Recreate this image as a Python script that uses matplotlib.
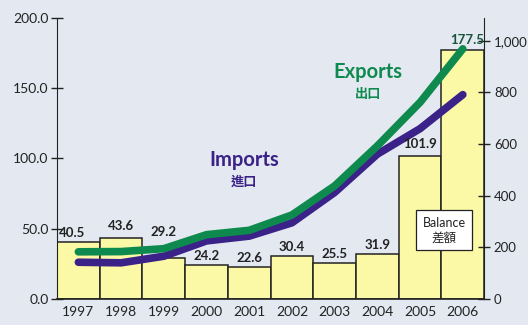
import matplotlib.pyplot as plt
from matplotlib.ticker import FuncFormatter

plt.rcParams['font.family'] = ['Lato', 'Noto Sans CJK TC', 'DejaVu Sans']

years = ['1997', '1998', '1999', '2000', '2001', '2002', '2003', '2004', '2005', '2006']
balance = [40.5, 43.6, 29.2, 24.2, 22.6, 30.4, 25.5, 31.9, 101.9, 177.5]
exports = [182.8, 183.7, 194.9, 249.2, 266.1, 325.6, 438.2, 593.3, 762.0, 969.1]
imports = [142.4, 140.2, 165.7, 225.1, 243.6, 295.2, 412.8, 561.2, 660.0, 791.6]

green = '#0f8a4f'
purple = '#3b2288'
bar_fill = '#fbf8a6'
ink = '#222222'

fig = plt.figure(figsize=(5.28, 3.25), dpi=100)
fig.patch.set_facecolor('#e4e9f1')
ax = fig.add_axes([0.108, 0.080, 0.809, 0.865])
ax.set_facecolor('none')

# balance bars on the left axis
x = list(range(len(years)))
ax.bar(x, balance, width=1.0, color=bar_fill, edgecolor=ink, linewidth=1.1, zorder=2)
ax.set_xlim(-0.5, len(years) - 0.5)
ax.set_ylim(0, 200)
ax.set_yticks([0, 50, 100, 150, 200])
ax.yaxis.set_major_formatter(FuncFormatter(lambda v, p: f'{v:.1f}'))
ax.set_xticks(x)
ax.set_xticklabels(years)
ax.tick_params(axis='x', length=0, pad=5, labelsize=10, colors=ink)
ax.tick_params(axis='y', direction='inout', length=8, width=1, labelsize=10, colors=ink, pad=2)
for s in ['top', 'right']:
    ax.spines[s].set_visible(False)
ax.spines['left'].set_color(ink)
ax.spines['bottom'].set_color(ink)
ax.spines['bottom'].set_linewidth(1.2)

# exports / imports on the right axis
ax2 = ax.twinx()
ax2.set_ylim(0, 1089)
ax2.set_yticks([0, 200, 400, 600, 800, 1000])
ax2.yaxis.set_major_formatter(FuncFormatter(lambda v, p: f'{int(v):,}'))
ax2.tick_params(axis='y', direction='inout', length=8, width=1, labelsize=9.5, colors=ink, pad=3)
for s in ['top', 'left', 'bottom']:
    ax2.spines[s].set_visible(False)
ax2.spines['right'].set_color(ink)

ax2.plot(x, imports, color=purple, lw=5.5, solid_capstyle='round', solid_joinstyle='round', zorder=3)
ax2.plot(x, exports, color=green, lw=5.5, solid_capstyle='round', solid_joinstyle='round', zorder=4)

# value labels over each bar (on ax2 so they stay above the lines)
for i, v in enumerate(balance):
    ha, xo, yo, col = 'center', 0, 6.5, ink
    if i == 0:
        ha, xo = 'left', -0.45
    elif i == 1:
        yo = 8
    elif i == 2:
        yo = 18.5
    elif i == 8:
        yo = 8.5
    elif i == len(balance) - 1:
        ha, xo, yo, col = 'right', 0.5, 6.8, '#17553a'
    ax2.text(i + xo, v + yo, f'{v}', ha=ha, va='center', fontsize=9.5,
             fontweight='bold', color=col, zorder=5, transform=ax.transData)

# series names
ax2.text(6.78, 880, 'Exports', color=green, fontsize=14.5, fontweight='bold', ha='center', va='center')
ax2.text(6.78, 795, '出口', color=green, fontsize=9.5, fontweight='bold', ha='center', va='center')
ax2.text(3.88, 540, 'Imports', color=purple, fontsize=14.5, fontweight='bold', ha='center', va='center')
ax2.text(3.88, 455, '進口', color=purple, fontsize=9.5, fontweight='bold', ha='center', va='center')

ax2.text(8.56, 267, 'Balance\n差額', color=ink, fontsize=9, ha='center', va='center',
         linespacing=1.3, zorder=6,
         bbox=dict(boxstyle='square,pad=0.5', facecolor='white', edgecolor=ink, linewidth=0.9))

fig.savefig('out.png', dpi=100, facecolor=fig.get_facecolor())
